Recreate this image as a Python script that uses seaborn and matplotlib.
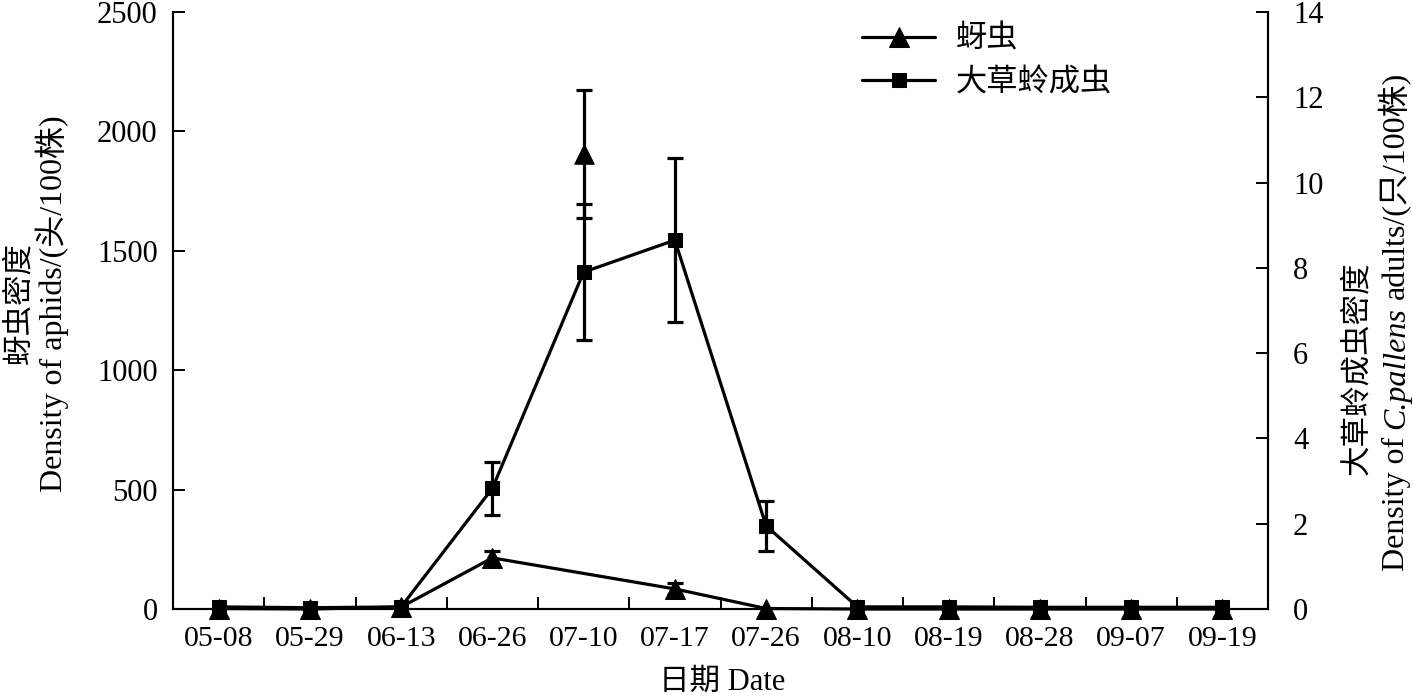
import numpy as np
import matplotlib
matplotlib.use('Agg')
import matplotlib.pyplot as plt
import seaborn as sns

# data
dates = ['05-08', '05-29', '06-13', '06-26', '07-10', '07-17',
         '07-26', '08-10', '08-19', '08-28', '09-07', '09-19']
aphid = np.array([2, 0, 8, 214, 1906, 84, 2, 0, 0, 0, 0, 0])
aphid_err = np.array([0, 0, 0, 30, 268, 25, 0, 0, 0, 0, 0, 0])
# the aphid line skips the 07-10 point in the original figure
aphid_on_line = np.array([True, True, True, True, False, True,
                          True, True, True, True, True, True])
lacewing = np.array([0.05, 0.03, 0.05, 2.83, 7.9, 8.65, 1.95, 0.05, 0.05, 0.04, 0.04, 0.04])
lacewing_err = np.array([0, 0, 0, 0.62, 1.6, 1.93, 0.59, 0, 0, 0, 0, 0])

sns.set_style('ticks', {'axes.edgecolor': 'black', 'xtick.color': 'black',
                        'ytick.color': 'black', 'text.color': 'black'})
plt.rcParams['font.family'] = ['Liberation Serif', 'Noto Sans CJK SC']
plt.rcParams['axes.linewidth'] = 1.5

W, H = 1413, 697
fig = plt.figure(figsize=(W / 100, H / 100), dpi=100)
ax = fig.add_axes([173 / W, 1 - 609 / H, 1095 / W, 597 / H])
ax2 = ax.twinx()

pos = np.arange(len(dates))
lw = 2.3

# lacewing adults (right axis)
sns.lineplot(x=pos, y=lacewing, ax=ax2, color='black', linewidth=lw, marker='s',
             markersize=9.5, markeredgecolor='black', clip_on=False, label='大草蛉成虫')
m = lacewing_err > 0
ax2.errorbar(pos[m], lacewing[m], yerr=lacewing_err[m], fmt='none', ecolor='black',
             elinewidth=lw, capsize=6, capthick=lw)

# aphids (left axis)
sns.lineplot(x=pos[aphid_on_line], y=aphid[aphid_on_line], ax=ax, color='black', linewidth=lw,
             marker='^', markersize=14, markeredgecolor='black', clip_on=False, label='蚜虫')
sns.scatterplot(x=pos[~aphid_on_line], y=aphid[~aphid_on_line], ax=ax, color='black',
                marker='^', s=14 ** 2, edgecolor='black', linewidth=0.8, zorder=3)
m = aphid_err > 0
ax.errorbar(pos[m], aphid[m], yerr=aphid_err[m], fmt='none', ecolor='black',
            elinewidth=lw, capsize=6, capthick=lw)

ax.set_zorder(ax2.get_zorder() + 1)
ax.patch.set_visible(False)

ax.set_xlim(-0.5, len(dates) - 0.5)
ax.set_ylim(0, 2500)
ax2.set_ylim(0, 14)
ax.set_yticks(np.arange(0, 2501, 500))
ax2.set_yticks(np.arange(0, 15, 2))
ax.set_xticks(pos, labels=dates)
ax.set_xticks(np.arange(0.5, len(dates) - 1, 1), minor=True)
ax.tick_params(axis='x', which='major', length=0, pad=12, labelsize=21.5)
ax.tick_params(axis='x', which='minor', direction='in', length=8.6, width=1.4)
ax.tick_params(axis='y', direction='in', length=8.6, width=1.4, pad=11, labelsize=22)
ax2.tick_params(axis='y', direction='in', length=8.6, width=1.4, pad=18, labelsize=22)
ax.set_xlabel('')
ax.set_ylabel('')
ax2.set_ylabel('')
for a in (ax, ax2):
    a.spines['top'].set_visible(False)

# combined legend
h1, l1 = ax.get_legend_handles_labels()
h2, l2 = ax2.get_legend_handles_labels()
ax2.get_legend().remove()
ax.legend(h1[:1] + h2[:1], l1[:1] + l2[:1], loc='upper left', frameon=False,
          bbox_to_anchor=(862 / W, 1 - 26 / H), bbox_transform=fig.transFigure,
          borderpad=0, borderaxespad=0, handlelength=2.35, handletextpad=0.65,
          labelspacing=0.45, numpoints=1, prop={'size': 22.5})

# axis titles
fig.text(722 / W, 1 - 682 / H, '日期 Date', ha='center', va='center', fontsize=22)
fig.text(20 / W, 1 - 303 / H, '蚜虫密度', rotation=90, ha='center', va='center', fontsize=22)
fig.text(52 / W, 1 - 304 / H, 'Density of aphids/(头/100株)', rotation=90,
         ha='center', va='center', fontsize=23)
fig.text(1358 / W, 1 - 368 / H, '大草蛉成虫密度', rotation=90, ha='center', va='center',
         fontsize=22)

# right label line 2 with italic species name, pieces stacked upward
renderer = fig.canvas.get_renderer()
parts = [('Density of', 'normal'), ('C.pallens', 'italic'), ('adults/(只/100株)', 'normal')]
y = 571
gap = 8
for s, st in parts:
    t = fig.text(1404 / W, 1 - y / H, s, rotation=90, rotation_mode='anchor',
                 ha='left', va='baseline', fontsize=23, style=st)
    bb = t.get_window_extent(renderer)
    y -= bb.height + gap

fig.savefig('out.png', dpi=100)
